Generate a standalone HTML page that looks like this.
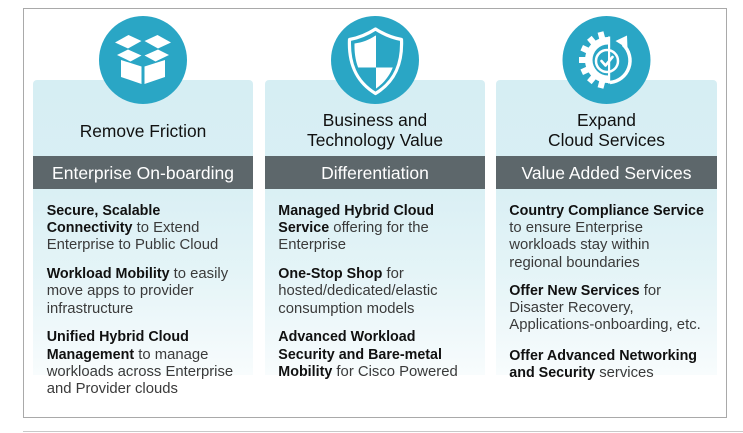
<!DOCTYPE html>
<html><head><meta charset="utf-8">
<style>
html,body{margin:0;padding:0;background:#fff;}
body{width:743px;height:433px;position:relative;overflow:hidden;font-family:"Liberation Sans",Arial,sans-serif;}
.frame{position:absolute;left:23px;top:8px;width:702px;height:408px;border:1px solid #a9a9a9;}
.bline{position:absolute;left:23px;top:431px;width:720px;height:1px;background:#c9c9c9;}
.panel{position:absolute;top:80px;height:295px;border-radius:4px 4px 0 0;
 background:linear-gradient(to bottom,#d6eef3 0%,#d9eff4 35%,#e4f4f7 65%,#f1f9fb 88%,#f8fcfd 100%);}
.title{position:absolute;top:0;width:100%;text-align:center;color:#111;font-size:17.4px;line-height:20px;white-space:nowrap;}
.bar{position:absolute;top:76px;left:0;width:100%;height:33px;background:#5d676b;color:#fff;text-align:center;font-size:17.5px;line-height:34px;white-space:nowrap;}
.p{position:absolute;font-size:14.85px;line-height:17.3px;color:#3a3a3a;white-space:nowrap;}
.p b{font-size:14.3px;color:#111;font-weight:bold;}
svg.ov{position:absolute;left:0;top:0;}
</style></head><body>
<div class="frame"></div>
<div class="bline"></div>

<div class="panel" style="left:33px;width:220px;">
  <div class="title" style="top:40.6px;">Remove Friction</div>
  <div class="bar">Enterprise On-boarding</div>
</div>
<div class="panel" style="left:265px;width:220px;">
  <div class="title" style="top:29.6px;">Business and<br>Technology Value</div>
  <div class="bar">Differentiation</div>
</div>
<div class="panel" style="left:496px;width:221px;">
  <div class="title" style="top:29.6px;">Expand<br>Cloud Services</div>
  <div class="bar">Value Added Services</div>
</div>

<!-- panel 1 text -->
<div class="p" style="left:46.7px;top:202.7px;"><b>Secure, Scalable<br>Connectivity</b> to Extend<br>Enterprise to Public Cloud</div>
<div class="p" style="left:46.7px;top:266px;"><b>Workload Mobility</b> to easily<br>move apps to provider<br>infrastructure</div>
<div class="p" style="left:46.7px;top:329.4px;"><b>Unified Hybrid Cloud<br>Management</b> to manage<br>workloads across Enterprise<br>and Provider clouds</div>

<!-- panel 2 text -->
<div class="p" style="left:278.3px;top:202.7px;"><b>Managed Hybrid Cloud<br>Service</b> offering for the<br>Enterprise</div>
<div class="p" style="left:278.3px;top:266px;"><b>One-Stop Shop</b> for<br>hosted/dedicated/elastic<br>consumption models</div>
<div class="p" style="left:278.3px;top:329.4px;"><b>Advanced Workload<br>Security and Bare-metal<br>Mobility</b> for Cisco Powered</div>

<!-- panel 3 text -->
<div class="p" style="left:509.3px;top:202.7px;"><b>Country Compliance Service</b><br>to ensure Enterprise<br>workloads stay within<br>regional boundaries</div>
<div class="p" style="left:509.3px;top:282.7px;"><b>Offer New Services</b> for<br>Disaster Recovery,<br>Applications-onboarding, etc.</div>
<div class="p" style="left:509.3px;top:347.7px;"><b>Offer Advanced Networking<br>and Security</b> services</div>

<svg class="ov" width="743" height="433" viewBox="0 0 743 433">
  <defs>
    <clipPath id="innerShield">
      <path d="M375.5,35.5 C382,40 389,42.5 396.5,43.5 C397,63 391,78 375.5,89 C360,78 354,63 354.5,43.5 C362,42.5 369,40 375.5,35.5 Z"/>
    </clipPath>
    <clipPath id="leftHalf"><rect x="560" y="10" width="49.5" height="100"/></clipPath>
  </defs>

  <!-- circle 1: box -->
  <circle cx="143" cy="60" r="44" fill="#2aa6c5"/>
  <g fill="#fff">
    <polygon points="115,42.5 128.5,35 141.5,41 128,48.5"/>
    <polygon points="144.5,41 157.5,35 171,42.5 158,48.5"/>
    <polygon points="117,55 128,49.5 141.5,55.5 130.5,61.5"/>
    <polygon points="144.5,55.5 158,49.5 169,55 155.5,61.5"/>
    <polygon points="121,60 141.5,66.5 141.5,84 121,77"/>
    <polygon points="144.5,66.5 165,60 165,77 144.5,84"/>
  </g>

  <!-- circle 2: shield -->
  <circle cx="375" cy="60" r="44" fill="#2aa6c5"/>
  <path d="M375.5,29 C384,34.5 393,38 401.5,39.5 C402.5,62 396,81 375.5,93.5 C355,81 348.5,62 349.5,39.5 C358,38 367,34.5 375.5,29 Z" fill="none" stroke="#fff" stroke-width="3.2" stroke-linejoin="round"/>
  <g clip-path="url(#innerShield)" fill="#fff">
    <rect x="345" y="28" width="31" height="39.5"/>
    <rect x="376" y="67.5" width="30" height="30"/>
  </g>

  <!-- circle 3: gear + arrow + check -->
  <circle cx="606.5" cy="60" r="44" fill="#2aa6c5"/>
  <g clip-path="url(#leftHalf)" fill="#fff">
    <circle cx="608" cy="60" r="23"/>
    <g transform="translate(608,60)">
      <rect x="-29" y="-3" width="10" height="6" transform="rotate(0)"/>
      <rect x="-29" y="-3" width="10" height="6" transform="rotate(25)"/>
      <rect x="-29" y="-3" width="10" height="6" transform="rotate(50)"/>
      <rect x="-29" y="-3" width="10" height="6" transform="rotate(75)"/>
      <rect x="-29" y="-3" width="10" height="6" transform="rotate(-25)"/>
      <rect x="-29" y="-3" width="10" height="6" transform="rotate(-50)"/>
      <rect x="-29" y="-3" width="10" height="6" transform="rotate(-75)"/>
    </g>
    <circle cx="608" cy="60" r="15.5" fill="#2aa6c5"/>
  </g>
  <rect x="608" y="36.5" width="2.2" height="47" fill="#fff"/>
  <path d="M610,82.5 A22,22 0 0 0 623,44.5" fill="none" stroke="#fff" stroke-width="3.5"/>
  <polygon points="615.5,41 627,35.5 627.5,48.5" fill="#fff"/>
  <circle cx="607" cy="61" r="11" fill="none" stroke="#fff" stroke-width="2.5"/>
  <polyline points="601.5,61 605.5,65.5 612.5,57" fill="none" stroke="#fff" stroke-width="2.6" stroke-linecap="round" stroke-linejoin="round"/>
</svg>
</body></html>
